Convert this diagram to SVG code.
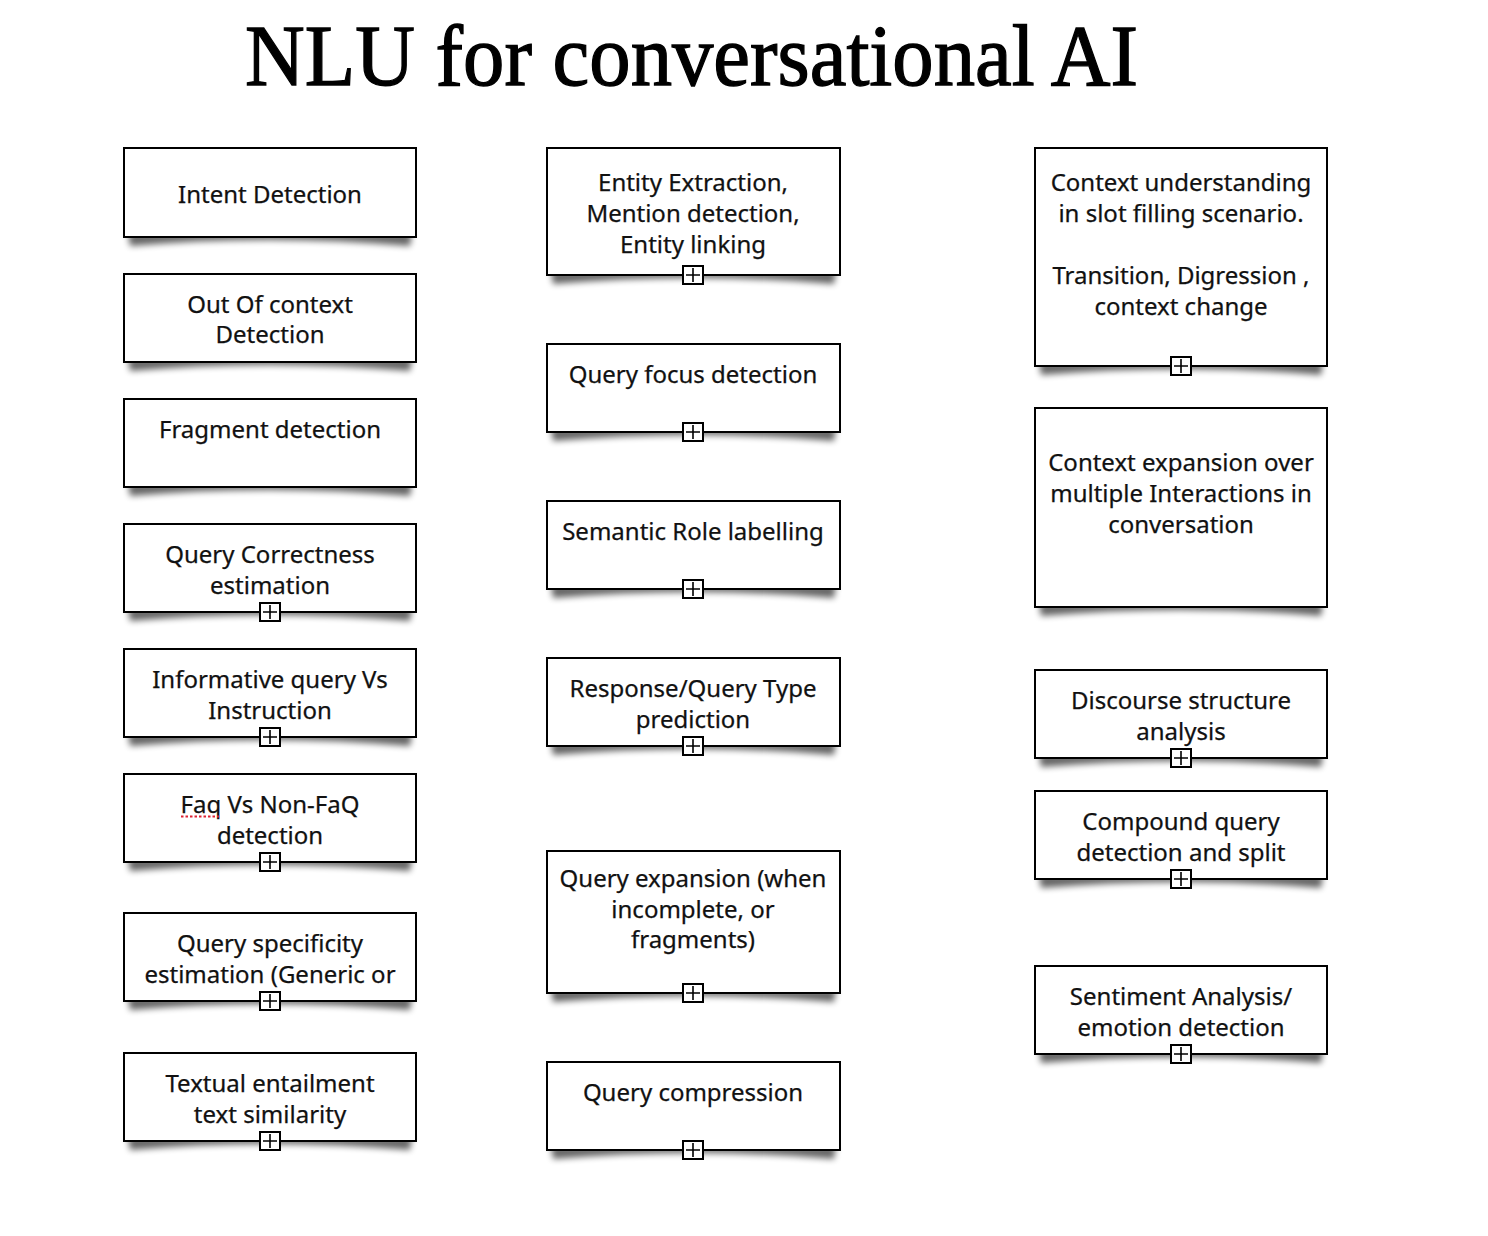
<svg xmlns="http://www.w3.org/2000/svg" xmlns:xlink="http://www.w3.org/1999/xlink" width="1488" height="1236" viewBox="0 0 1488 1236">
<style>
.box{fill:#fff;stroke:#000;stroke-width:2}
.sh{fill:#000;opacity:0.6;filter:url(#blur)}
.lbl{font-family:"Noto Sans","DejaVu Sans",sans-serif;font-size:24px;text-anchor:middle;fill:#111;stroke:#111;stroke-width:0.25}
.title{font-family:"Liberation Serif","Times New Roman",serif;font-size:86px;fill:#000;stroke:#000;stroke-width:1.3}
.pb{fill:#fff;stroke:#000;stroke-width:2}
.pl{stroke:#000;stroke-width:1.6;fill:none}
</style>
<defs>
<filter id="blur" x="-10%" y="-100%" width="120%" height="300%"><feGaussianBlur stdDeviation="3"/></filter>
<g id="plus"><rect class="pb" x="-10" y="-9" width="20" height="18"/><path class="pl" d="M-7,0H7M0,-7V7"/></g>
</defs>
<rect width="1488" height="1236" fill="#fff"/>
<text class="title" x="245" y="85" textLength="893" lengthAdjust="spacingAndGlyphs">NLU for conversational AI</text>
<g id="connectors"></g>

<!-- Column 1 -->
<g id="n-intent">
<path class="sh" d="M128,233 L412,233 L410,246 Q270,234 130,246 Z"/>
<rect class="box" x="124" y="148" width="292" height="89"/>
<text class="lbl" x="270" y="203">Intent Detection</text>
</g>
<g id="n-ooc">
<path class="sh" d="M128,358 L412,358 L410,371 Q270,359 130,371 Z"/>
<rect class="box" x="124" y="274" width="292" height="88"/>
<text class="lbl" x="270" y="313">Out Of context</text>
<text class="lbl" x="270" y="343">Detection</text>
</g>
<g id="n-fragment">
<path class="sh" d="M128,483 L412,483 L410,496 Q270,484 130,496 Z"/>
<rect class="box" x="124" y="399" width="292" height="88"/>
<text class="lbl" x="270" y="438">Fragment detection</text>
</g>
<g id="n-correctness">
<path class="sh" d="M128,608 L412,608 L410,621 Q270,609 130,621 Z"/>
<rect class="box" x="124" y="524" width="292" height="88"/>
<text class="lbl" x="270" y="563">Query Correctness</text>
<text class="lbl" x="270" y="594">estimation</text>
<use xlink:href="#plus" x="270" y="612"/>
</g>
<g id="n-informative">
<path class="sh" d="M128,733 L412,733 L410,746 Q270,734 130,746 Z"/>
<rect class="box" x="124" y="649" width="292" height="88"/>
<text class="lbl" x="270" y="688">Informative query Vs</text>
<text class="lbl" x="270" y="719">Instruction</text>
<use xlink:href="#plus" x="270" y="737"/>
</g>
<g id="n-faq">
<path class="sh" d="M128,858 L412,858 L410,871 Q270,859 130,871 Z"/>
<rect class="box" x="124" y="774" width="292" height="88"/>
<text class="lbl" x="270" y="813">Faq Vs Non-FaQ</text>
<path d="M181,816.5 H219" stroke="#d23" stroke-width="2" stroke-dasharray="2.5,2" fill="none"/>
<text class="lbl" x="270" y="844">detection</text>
<use xlink:href="#plus" x="270" y="862"/>
</g>
<g id="n-specificity">
<path class="sh" d="M128,997 L412,997 L410,1010 Q270,998 130,1010 Z"/>
<rect class="box" x="124" y="913" width="292" height="88"/>
<text class="lbl" x="270" y="952">Query specificity</text>
<text class="lbl" x="270" y="983">estimation (Generic or</text>
<use xlink:href="#plus" x="270" y="1001"/>
</g>
<g id="n-entailment">
<path class="sh" d="M128,1137 L412,1137 L410,1150 Q270,1138 130,1150 Z"/>
<rect class="box" x="124" y="1053" width="292" height="88"/>
<text class="lbl" x="270" y="1092">Textual entailment</text>
<text class="lbl" x="270" y="1123">text similarity</text>
<use xlink:href="#plus" x="270" y="1141"/>
</g>

<!-- Column 2 -->
<g id="n-entity">
<path class="sh" d="M551,271 L836,271 L834,284 Q693,272 553,284 Z"/>
<rect class="box" x="547" y="148" width="293" height="127"/>
<text class="lbl" x="693" y="191">Entity Extraction,</text>
<text class="lbl" x="693" y="222">Mention detection,</text>
<text class="lbl" x="693" y="253">Entity linking</text>
<use xlink:href="#plus" x="693" y="275"/>
</g>
<g id="n-focus">
<path class="sh" d="M551,428 L836,428 L834,441 Q693,429 553,441 Z"/>
<rect class="box" x="547" y="344" width="293" height="88"/>
<text class="lbl" x="693" y="383">Query focus detection</text>
<use xlink:href="#plus" x="693" y="432"/>
</g>
<g id="n-srl">
<path class="sh" d="M551,585 L836,585 L834,598 Q693,586 553,598 Z"/>
<rect class="box" x="547" y="501" width="293" height="88"/>
<text class="lbl" x="693" y="540">Semantic Role labelling</text>
<use xlink:href="#plus" x="693" y="589"/>
</g>
<g id="n-response">
<path class="sh" d="M551,742 L836,742 L834,755 Q693,743 553,755 Z"/>
<rect class="box" x="547" y="658" width="293" height="88"/>
<text class="lbl" x="693" y="697">Response/Query Type</text>
<text class="lbl" x="693" y="728">prediction</text>
<use xlink:href="#plus" x="693" y="746"/>
</g>
<g id="n-expansion">
<path class="sh" d="M551,989 L836,989 L834,1002 Q693,990 553,1002 Z"/>
<rect class="box" x="547" y="851" width="293" height="142"/>
<text class="lbl" x="693" y="887">Query expansion (when</text>
<text class="lbl" x="693" y="918">incomplete, or</text>
<text class="lbl" x="693" y="948">fragments)</text>
<use xlink:href="#plus" x="693" y="993"/>
</g>
<g id="n-compression">
<path class="sh" d="M551,1146 L836,1146 L834,1159 Q693,1147 553,1159 Z"/>
<rect class="box" x="547" y="1062" width="293" height="88"/>
<text class="lbl" x="693" y="1101">Query compression</text>
<use xlink:href="#plus" x="693" y="1150"/>
</g>

<!-- Column 3 -->
<g id="n-context-understanding">
<path class="sh" d="M1039,362 L1323,362 L1321,375 Q1181,363 1041,375 Z"/>
<rect class="box" x="1035" y="148" width="292" height="218"/>
<text class="lbl" x="1181" y="191">Context understanding</text>
<text class="lbl" x="1181" y="222">in slot filling scenario.</text>
<text class="lbl" x="1181" y="284">Transition, Digression ,</text>
<text class="lbl" x="1181" y="315">context change</text>
<use xlink:href="#plus" x="1181" y="366"/>
</g>
<g id="n-context-expansion">
<path class="sh" d="M1039,603 L1323,603 L1321,616 Q1181,604 1041,616 Z"/>
<rect class="box" x="1035" y="408" width="292" height="199"/>
<text class="lbl" x="1181" y="471">Context expansion over</text>
<text class="lbl" x="1181" y="502">multiple Interactions in</text>
<text class="lbl" x="1181" y="533">conversation</text>
</g>
<g id="n-discourse">
<path class="sh" d="M1039,754 L1323,754 L1321,767 Q1181,755 1041,767 Z"/>
<rect class="box" x="1035" y="670" width="292" height="88"/>
<text class="lbl" x="1181" y="709">Discourse structure</text>
<text class="lbl" x="1181" y="740">analysis</text>
<use xlink:href="#plus" x="1181" y="758"/>
</g>
<g id="n-compound">
<path class="sh" d="M1039,875 L1323,875 L1321,888 Q1181,876 1041,888 Z"/>
<rect class="box" x="1035" y="791" width="292" height="88"/>
<text class="lbl" x="1181" y="830">Compound query</text>
<text class="lbl" x="1181" y="861">detection and split</text>
<use xlink:href="#plus" x="1181" y="879"/>
</g>
<g id="n-sentiment">
<path class="sh" d="M1039,1050 L1323,1050 L1321,1063 Q1181,1051 1041,1063 Z"/>
<rect class="box" x="1035" y="966" width="292" height="88"/>
<text class="lbl" x="1181" y="1005">Sentiment Analysis/</text>
<text class="lbl" x="1181" y="1036">emotion detection</text>
<use xlink:href="#plus" x="1181" y="1054"/>
</g>
</svg>
